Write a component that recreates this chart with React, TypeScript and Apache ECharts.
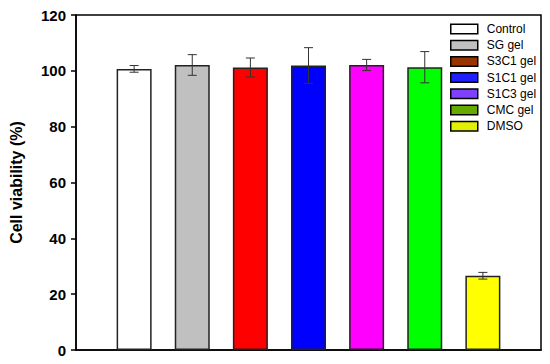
import { useEffect, useRef } from "react";
import * as echarts from "echarts";

const categories = ["Control", "SG gel", "S3C1 gel", "S1C1 gel", "S1C3 gel", "CMC gel", "DMSO"];
const viability = [100.7, 102.1, 101.2, 101.9, 102.1, 101.3, 26.6];
const errors = [1.2, 3.7, 3.4, 6.4, 2.0, 5.6, 1.2];
const barColors = ["#ffffff", "#c0c0c0", "#ff0000", "#0000ff", "#ff00ff", "#00ff00", "#ffff00"];
const legendColors = ["#ffffff", "#c0c0c0", "#993300", "#2020ff", "#8040ff", "#66aa00", "#e0f000"];
const yMin = 0;
const yMax = 120;
const yInterval = 20;

export default function App() {
  const ref = useRef<HTMLDivElement>(null);
  useEffect(() => {
    if (!ref.current) return;
    const chart = echarts.init(ref.current, undefined, { renderer: "svg" });
    const barSeries = categories.map((name, i) => ({
      type: "bar",
      name,
      barWidth: 35,
      barGap: "-100%",
      itemStyle: { color: legendColors[i], borderColor: "#222", borderWidth: 1.5 },
      data: [{ value: [i + 1, viability[i]], itemStyle: { color: barColors[i] } }],
      z: 2,
    }));
    const errData = categories.map((_, i) => [i + 1, viability[i] - errors[i], viability[i] + errors[i]]);
    chart.setOption({
      animation: false,
      grid: {
        left: 73,
        right: 9,
        top: 15,
        bottom: 14,
        show: true,
        borderColor: "#000",
        borderWidth: 1.5,
      },
      legend: {
        data: categories,
        orient: "vertical",
        left: 450,
        top: 23,
        padding: 0,
        icon: "rect",
        itemWidth: 27,
        itemHeight: 9.5,
        itemGap: 4.2,
        itemStyle: { borderColor: "#000", borderWidth: 1.5 },
        textStyle: {
          fontSize: 12,
          fontFamily: "Arial, Liberation Sans",
          color: "#000",
          padding: [0, 0, 0, 4],
        },
      },
      xAxis: {
        type: "value",
        min: 0,
        max: 8,
        axisLine: { show: true, lineStyle: { color: "#000", width: 1.5 } },
        axisTick: { show: false },
        axisLabel: { show: false },
        splitLine: { show: false },
      },
      yAxis: {
        type: "value",
        min: yMin,
        max: yMax,
        interval: yInterval,
        name: "Cell viability (%)",
        nameLocation: "middle",
        nameGap: 52,
        nameTextStyle: {
          fontSize: 16,
          fontWeight: "bold",
          fontFamily: "Arial, Liberation Sans",
          color: "#000",
        },
        axisLine: { show: true, lineStyle: { color: "#000", width: 1.5 } },
        axisTick: { show: true, inside: false, length: 5, lineStyle: { color: "#000", width: 1.5 } },
        axisLabel: { fontSize: 15, fontWeight: "bold", fontFamily: "Arial, Liberation Sans", color: "#000", margin: 10 },
        splitLine: { show: false },
      },
      series: [
        ...barSeries,
        {
          type: "custom",
          z: 5,
          data: errData,
          renderItem: (_params: any, api: any) => {
            const x = api.value(0);
            const lo = api.coord([x, api.value(1)]);
            const hi = api.coord([x, api.value(2)]);
            const cap = 4.5;
            const style = { stroke: "#333", lineWidth: 1 };
            return {
              type: "group",
              children: [
                { type: "line", shape: { x1: lo[0], y1: lo[1], x2: hi[0], y2: hi[1] }, style },
                { type: "line", shape: { x1: lo[0] - cap, y1: lo[1], x2: lo[0] + cap, y2: lo[1] }, style },
                { type: "line", shape: { x1: hi[0] - cap, y1: hi[1], x2: hi[0] + cap, y2: hi[1] }, style },
              ],
            };
          },
        },
      ],
    });
    return () => chart.dispose();
  }, []);
  return <div ref={ref} style={{ position: "fixed", left: 0, top: 0, width: 550, height: 364, background: "#fff" }} />;
}
